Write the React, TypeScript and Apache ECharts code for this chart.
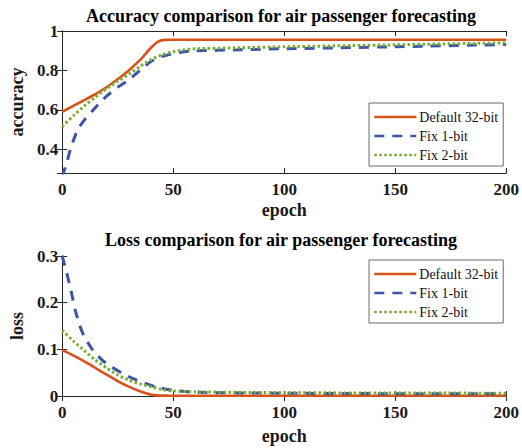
import React, { useEffect, useRef } from "react";
import * as echarts from "echarts";

// ---------- data ----------
const seriesNames = ["Default 32-bit", "Fix 1-bit", "Fix 2-bit"];
const xTicks = [0, 50, 100, 150, 200];

// accuracy
const accDefaultEpoch = [0, 5, 10, 15, 20, 25, 30, 35, 40, 43, 46, 50, 100, 150, 200];
const accDefaultVal = [0.59, 0.62, 0.65, 0.68, 0.715, 0.755, 0.8, 0.852, 0.915, 0.945, 0.955, 0.956, 0.956, 0.956, 0.956];
const accFix1Epoch = [0, 2, 4, 7, 10, 15, 20, 25, 30, 35, 40, 45, 50, 55, 60, 80, 100, 150, 200];
const accFix1Val = [0.26, 0.33, 0.41, 0.5, 0.548, 0.612, 0.67, 0.714, 0.752, 0.8, 0.845, 0.87, 0.885, 0.895, 0.9, 0.905, 0.91, 0.92, 0.932];
const accFix2Epoch = [0, 5, 10, 15, 20, 25, 30, 35, 40, 45, 50, 55, 60, 80, 100, 150, 200];
const accFix2Val = [0.515, 0.57, 0.62, 0.665, 0.708, 0.745, 0.78, 0.82, 0.855, 0.88, 0.895, 0.905, 0.91, 0.915, 0.92, 0.93, 0.94];

// loss
const lossDefaultEpoch = [0, 5, 10, 15, 20, 25, 30, 35, 40, 45, 50, 100, 150, 200];
const lossDefaultVal = [0.099, 0.087, 0.074, 0.06, 0.046, 0.032, 0.02, 0.01, 0.003, 0.0007, 0.0005, 0.0005, 0.0005, 0.0005];
const lossFix1Epoch = [0, 2, 4, 6, 8, 10, 14, 18, 22, 27, 32, 37, 42, 49, 60, 100, 150, 200];
const lossFix1Val = [0.3, 0.265, 0.225, 0.182, 0.15, 0.127, 0.097, 0.077, 0.063, 0.049, 0.037, 0.028, 0.02, 0.013, 0.008, 0.006, 0.005, 0.005];
const lossFix2Epoch = [0, 5, 10, 15, 20, 25, 30, 35, 40, 45, 50, 60, 100, 150, 200];
const lossFix2Val = [0.141, 0.118, 0.097, 0.077, 0.06, 0.045, 0.034, 0.026, 0.02, 0.014, 0.011, 0.009, 0.007, 0.0065, 0.006];

const titles = [
  "Accuracy comparison for air passenger forecasting",
  "Loss comparison for air passenger forecasting",
];

const COLORS = ["#D95319", "#3A56A6", "#77AC30"];
const FONT = "'Liberation Serif', 'Times New Roman', serif";
const AXIS_COLOR = "#262626";

function pairs(xs: number[], ys: number[]) {
  return xs.map((x, i) => [x, ys[i]]);
}

export default function App() {
  const ref = useRef<HTMLDivElement>(null);
  useEffect(() => {
    if (!ref.current) return;
    const chart = echarts.init(ref.current, null, { renderer: "svg" });

    const grids = [
      { left: 56, right: 15, top: 31, height: 142 },
      { left: 56, right: 15, top: 256, height: 140 },
    ];

    const tickLabel = {
      fontFamily: FONT,
      fontWeight: "bold" as const,
      fontSize: 17,
      color: "#1a1a1a",
    };
    const nameStyle = {
      fontFamily: FONT,
      fontWeight: "bold" as const,
      fontSize: 18,
      color: "#1a1a1a",
    };
    const axisLine = { show: true, lineStyle: { color: AXIS_COLOR, width: 1 } };
    const axisTick = { show: true, inside: true, length: 5, lineStyle: { color: AXIS_COLOR } };

    const xAxes: any[] = [];
    const yAxes: any[] = [];
    [0, 1].forEach((g) => {
      xAxes.push({
        type: "value",
        gridIndex: g,
        min: xTicks[0],
        max: xTicks[xTicks.length - 1],
        interval: 50,
        position: "bottom",
        name: "epoch",
        nameLocation: "middle",
        nameGap: g === 0 ? 28 : 31,
        nameTextStyle: nameStyle,
        axisLine,
        axisTick,
        axisLabel: { ...tickLabel, margin: 8 },
        splitLine: { show: false },
      });
      xAxes.push({
        type: "value",
        gridIndex: g,
        min: xTicks[0],
        max: xTicks[xTicks.length - 1],
        interval: 50,
        position: "top",
        axisLine,
        axisTick,
        axisLabel: { show: false },
        splitLine: { show: false },
      });
    });
    const accY = {
      type: "value",
      gridIndex: 0,
      min: 0.28,
      max: 1,
      splitNumber: 4,
      splitLine: { show: false },
      axisLine,
      axisTick,
    };
    yAxes.push({
      ...accY,
      position: "left",
      name: "accuracy",
      nameLocation: "middle",
      nameGap: 32,
      nameTextStyle: nameStyle,
      axisLabel: { ...tickLabel, margin: 4, showMinLabel: false },
    });
    yAxes.push({ ...accY, position: "right", axisLabel: { show: false } });
    const lossY = {
      type: "value",
      gridIndex: 1,
      min: 0,
      max: 0.3,
      interval: 0.1,
      splitLine: { show: false },
      axisLine,
      axisTick,
    };
    yAxes.push({
      ...lossY,
      position: "left",
      name: "loss",
      nameLocation: "middle",
      nameGap: 32,
      nameTextStyle: nameStyle,
      axisLabel: { ...tickLabel, margin: 4 },
    });
    yAxes.push({ ...lossY, position: "right", axisLabel: { show: false } });

    const styles = [
      { color: COLORS[0], width: 2.6, type: "solid" as any },
      { color: COLORS[1], width: 3, type: [10, 8] as any },
      { color: COLORS[2], width: 3, type: [2.5, 2.5] as any },
    ];

    const accData = [
      pairs(accDefaultEpoch, accDefaultVal),
      pairs(accFix1Epoch, accFix1Val),
      pairs(accFix2Epoch, accFix2Val),
    ];
    const lossData = [
      pairs(lossDefaultEpoch, lossDefaultVal),
      pairs(lossFix1Epoch, lossFix1Val),
      pairs(lossFix2Epoch, lossFix2Val),
    ];

    const series: any[] = [];
    [2, 1, 0].forEach((i) => {
      series.push({
        type: "line",
        name: seriesNames[i],
        xAxisIndex: 0,
        yAxisIndex: 0,
        data: accData[i],
        symbol: "none",
        smooth: 0.2,
        clip: true,
        lineStyle: styles[i],
        itemStyle: { color: styles[i].color },
        z: 3 + i,
      });
      series.push({
        type: "line",
        name: seriesNames[i],
        xAxisIndex: 2,
        yAxisIndex: 2,
        data: lossData[i],
        symbol: "none",
        smooth: 0.2,
        clip: true,
        lineStyle: styles[i],
        itemStyle: { color: styles[i].color },
        z: 3 + i,
      });
    });

    const legendBase = {
      orient: "vertical",
      left: 369,
      itemWidth: 42,
      itemHeight: 14,
      itemGap: 5,
      padding: [7, 5, 4, 4],
      backgroundColor: "#ffffff",
      borderColor: "#6a6a6a",
      borderWidth: 1,
      borderRadius: 0,
      selectedMode: false,
      data: seriesNames,
      itemStyle: { opacity: 0 },
      lineStyle: { width: 2.6 },
      textStyle: { fontFamily: FONT, fontSize: 14, color: "#111", padding: [0, 0, 0, -2] },
      z: 10,
    };

    chart.setOption({
      animation: false,
      backgroundColor: "#ffffff",
      title: [
        {
          text: titles[0],
          left: 281,
          top: 7,
          textAlign: "center",
          padding: 0,
          textStyle: { fontFamily: FONT, fontWeight: "bold", fontSize: 18, color: "#000" },
        },
        {
          text: titles[1],
          left: 281,
          top: 231,
          textAlign: "center",
          padding: 0,
          textStyle: { fontFamily: FONT, fontWeight: "bold", fontSize: 18, color: "#000" },
        },
      ],
      legend: [
        { ...legendBase, top: 103 },
        { ...legendBase, top: 260 },
      ],
      grid: grids,
      xAxis: xAxes,
      yAxis: yAxes,
      series,
    });
    return () => chart.dispose();
  }, []);
  return (
    <div
      ref={ref}
      style={{ position: "fixed", left: 0, top: 0, width: 522, height: 448 }}
    />
  );
}
